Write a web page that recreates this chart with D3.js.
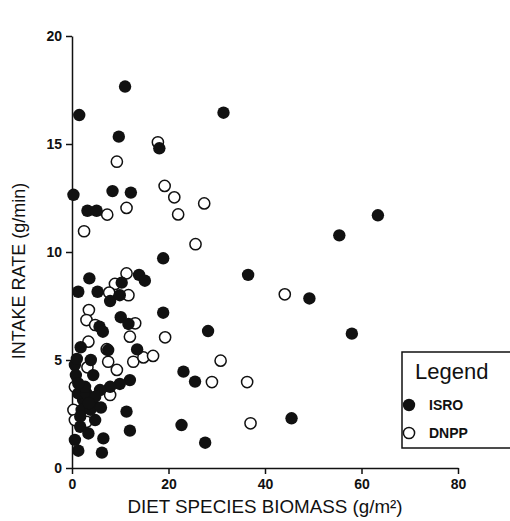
<!DOCTYPE html>
<html>
<head>
<meta charset="utf-8">
<script src="https://cdn.jsdelivr.net/npm/d3@7"></script>
<style>
  body { margin: 0; background: #fff; }
  .axis text { font-family: "Liberation Sans", Arial, sans-serif; font-weight: bold; font-size: 14px; fill: #111; }
  .axis path, .axis line { stroke: #111; stroke-width: 1.5; }
</style>
</head>
<body>
<div id="chart"></div>
<script>
// ISRO points: [diet species biomass, intake rate]
var isroX = [1.5, 11.0, 31.4, 9.7, 18.1, 0.3, 8.4, 12.2, 3.2, 5.1,
  63.4, 55.4, 36.5, 49.2, 28.2, 58.0, 23.1, 25.5, 22.7, 45.5, 27.6,
  18.9, 3.6, 1.3, 5.3, 10.3, 13.9, 15.1, 7.9, 9.9, 18.9, 10.1, 11.7, 5.7, 6.4, 1.8, 7.5, 13.5,
  0.6, 1.0, 3.9, 4.4, 0.8, 12.0, 9.9, 7.9, 5.8, 11.3, 12.0, 6.5, 6.2, 0.6, 1.3, 1.7, 3.4, 4.8,
  4.4, 2.3, 1.3, 3.0, 2.0, 3.8, 1.7, 2.7, 1.3, 4.8, 3.5, 6.0];
var isroY = [16.34, 17.66, 16.45, 15.34, 14.8, 12.65, 12.82, 12.75, 11.91, 11.91,
  11.7, 10.77, 8.94, 7.85, 6.34, 6.22, 4.46, 4.0, 1.99, 2.3, 1.17,
  9.71, 8.78, 8.16, 8.16, 8.58, 8.94, 8.67, 7.73, 8.0, 7.19, 6.98, 6.67, 6.54, 6.31, 5.59, 5.46, 5.49,
  4.77, 5.05, 5.0, 4.3, 4.3, 4.07, 3.89, 3.76, 3.61, 2.61, 1.73, 1.37, 0.71, 1.3, 0.8, 1.91, 1.6, 2.22,
  2.92, 3.15, 3.46, 3.46, 2.69, 2.7, 2.38, 3.76, 3.92, 3.3, 3.0, 2.8];

// DNPP points
var dnppX = [17.8, 9.3, 19.2, 21.2, 22.0, 27.4, 11.3, 7.3, 2.5, 25.6, 44.1,
  30.8, 29.0, 36.3, 37.0,
  11.3, 8.9, 7.7, 11.7, 3.5, 3.0, 4.8, 13.1, 12.0, 19.3, 3.4, 7.2, 7.5, 12.7, 14.8, 16.8,
  0.6, 7.9, 0.3, 0.6, 3.0, 9.3, 3.2];
var dnppY = [15.08, 14.18, 13.06, 12.53, 11.74, 12.25, 12.04, 11.73, 10.96, 10.36, 8.04,
  4.97, 3.98, 3.98, 2.07,
  9.01, 8.52, 8.12, 8.0, 7.31, 6.85, 6.62, 6.7, 6.08, 6.05, 5.85, 5.5, 4.92, 4.92, 5.12, 5.19,
  3.76, 3.38, 2.69, 2.22, 2.14, 4.54, 4.66];

var xTicks = [0, 20, 40, 60, 80];
var yTicks = [0, 5, 10, 15, 20];
var seriesNames = ["ISRO", "DNPP"];

var margin = {top: 36, right: 52, bottom: 53, left: 72};
var width = 510 - margin.left - margin.right;
var height = 521 - margin.top - margin.bottom;

var svg = d3.select("#chart")
  .append("svg")
  .attr("width", 510)
  .attr("height", 521);

var g = svg.append("g")
  .attr("transform", "translate(" + margin.left + "," + margin.top + ")");

var x = d3.scaleLinear().domain([0, 80]).range([0, width]);
var y = d3.scaleLinear().domain([0, 20]).range([height, 0]);

var isro = isroX.map(function(d, i) { return {x: d, y: isroY[i]}; });
var dnpp = dnppX.map(function(d, i) { return {x: d, y: dnppY[i]}; });

g.append("g")
  .attr("class", "axis")
  .attr("transform", "translate(0," + height + ")")
  .call(d3.axisBottom(x).tickValues(xTicks).tickSize(6).tickSizeOuter(0).tickPadding(5));

g.append("g")
  .attr("class", "axis")
  .call(d3.axisLeft(y).tickValues(yTicks).tickSize(6).tickSizeOuter(0).tickPadding(4));

// open circles first, filled ones drawn over them
g.append("g")
  .selectAll("circle")
  .data(dnpp)
  .enter().append("circle")
  .attr("cx", function(d) { return x(d.x); })
  .attr("cy", function(d) { return y(d.y); })
  .attr("r", 5.6)
  .attr("fill", "#fff")
  .attr("stroke", "#111")
  .attr("stroke-width", 1.5);

g.append("g")
  .selectAll("circle")
  .data(isro)
  .enter().append("circle")
  .attr("cx", function(d) { return x(d.x); })
  .attr("cy", function(d) { return y(d.y); })
  .attr("r", 6.2)
  .attr("fill", "#111");

// axis titles
svg.append("text")
  .attr("transform", "translate(25," + (margin.top + height / 2 + 19) + ") rotate(-90)")
  .attr("text-anchor", "middle")
  .attr("font-family", "'Liberation Sans', Arial, sans-serif")
  .attr("font-size", 18)
  .attr("fill", "#111")
  .text("INTAKE RATE (g/min)");

svg.append("text")
  .attr("x", margin.left + width / 2)
  .attr("y", 513)
  .attr("text-anchor", "middle")
  .attr("font-family", "'Liberation Sans', Arial, sans-serif")
  .attr("font-size", 18.8)
  .attr("fill", "#111")
  .text("DIET SPECIES BIOMASS (g/m\u00b2)");

// legend
var legend = svg.append("g").attr("transform", "translate(402,352)");

legend.append("rect")
  .attr("width", 130)
  .attr("height", 96)
  .attr("fill", "#fff")
  .attr("stroke", "#111")
  .attr("stroke-width", 1.5);

legend.append("text")
  .attr("x", 13)
  .attr("y", 27)
  .attr("font-family", "'Liberation Sans', Arial, sans-serif")
  .attr("font-size", 22)
  .attr("fill", "#111")
  .text("Legend");

var items = legend.selectAll(".item")
  .data(seriesNames)
  .enter().append("g")
  .attr("class", "item")
  .attr("transform", function(d, i) { return "translate(0," + (53 + i * 28) + ")"; });

items.append("circle")
  .attr("cx", 7)
  .attr("r", function(d, i) { return i === 0 ? 6.2 : 5.6; })
  .attr("fill", function(d, i) { return i === 0 ? "#111" : "#fff"; })
  .attr("stroke", "#111")
  .attr("stroke-width", function(d, i) { return i === 0 ? 0 : 1.5; });

items.append("text")
  .attr("x", 27)
  .attr("dy", "0.36em")
  .attr("font-family", "'Liberation Sans', Arial, sans-serif")
  .attr("font-weight", "bold")
  .attr("font-size", 14)
  .attr("fill", "#111")
  .text(function(d) { return d; });
</script>
</body>
</html>
